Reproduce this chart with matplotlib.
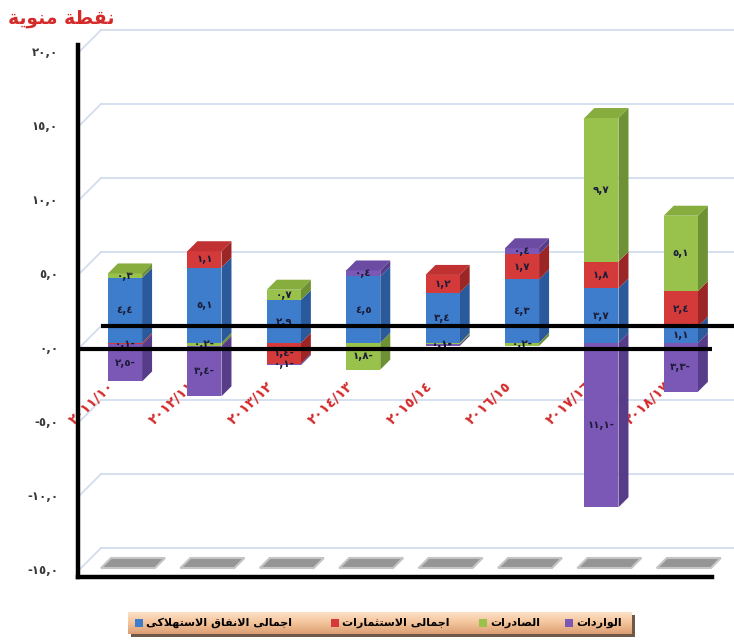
import matplotlib
matplotlib.use("Agg")
import matplotlib.pyplot as plt
from matplotlib.patches import Polygon, Rectangle
import numpy as np

# ---------------------------------------------------------------- data
categories = ["٢٠١١/١٠", "٢٠١٢/١١", "٢٠١٣/١٢", "٢٠١٤/١٣",
              "٢٠١٥/١٤", "٢٠١٦/١٥", "٢٠١٧/١٦", "٢٠١٨/١٧"]
consumption = [4.4, 5.1, 2.9, 4.5, 3.4, 4.3, 3.7, 1.1]
investment = [-0.1, 1.1, -1.4, 0.0, 1.2, 1.7, 1.8, 2.4]
exports = [0.3, -0.2, 0.7, -1.8, -0.1, -0.2, 9.7, 5.1]
imports = [-2.5, -3.4, -0.1, 0.4, -0.1, 0.4, -11.1, -3.3]
series_names = ["اجمالى الانفاق الاستهلاكى", "اجمالى الاستثمارات",
                "الصادرات", "الواردات"]
y_ticks = [20, 15, 10, 5, 0, -5, -10, -15]
title = "نقطة منوية"

# ---------------------------------------------------------------- arabic shaping
# (isolated, final, initial, medial) presentation forms
_FORMS = {
    'ا': ('\uFE8D', '\uFE8E', None, None),
    'ب': ('\uFE8F', '\uFE90', '\uFE91', '\uFE92'),
    'ة': ('\uFE93', '\uFE94', None, None),
    'ت': ('\uFE95', '\uFE96', '\uFE97', '\uFE98'),
    'ث': ('\uFE99', '\uFE9A', '\uFE9B', '\uFE9C'),
    'ج': ('\uFE9D', '\uFE9E', '\uFE9F', '\uFEA0'),
    'د': ('\uFEA9', '\uFEAA', None, None),
    'ر': ('\uFEAD', '\uFEAE', None, None),
    'س': ('\uFEB1', '\uFEB2', '\uFEB3', '\uFEB4'),
    'ص': ('\uFEB9', '\uFEBA', '\uFEBB', '\uFEBC'),
    'ط': ('\uFEC1', '\uFEC2', '\uFEC3', '\uFEC4'),
    'ف': ('\uFED1', '\uFED2', '\uFED3', '\uFED4'),
    'ق': ('\uFED5', '\uFED6', '\uFED7', '\uFED8'),
    'ك': ('\uFED9', '\uFEDA', '\uFEDB', '\uFEDC'),
    'ل': ('\uFEDD', '\uFEDE', '\uFEDF', '\uFEE0'),
    'م': ('\uFEE1', '\uFEE2', '\uFEE3', '\uFEE4'),
    'ن': ('\uFEE5', '\uFEE6', '\uFEE7', '\uFEE8'),
    'ه': ('\uFEE9', '\uFEEA', '\uFEEB', '\uFEEC'),
    'و': ('\uFEED', '\uFEEE', None, None),
    'ى': ('\uFEEF', '\uFEF0', None, None),
    'ي': ('\uFEF1', '\uFEF2', '\uFEF3', '\uFEF4'),
}


def _dual(c):
    return c in _FORMS and _FORMS[c][2] is not None


def shape(text):
    chars = list(text)
    out = []
    i, n = 0, len(chars)
    while i < n:
        c = chars[i]
        if c not in _FORMS:
            out.append(c)
            i += 1
            continue
        jp = i > 0 and _dual(chars[i - 1])
        if c == 'ل' and i + 1 < n and chars[i + 1] == 'ا':
            out.append('\uFEFC' if jp else '\uFEFB')
            i += 2
            continue
        jn = _dual(c) and i + 1 < n and chars[i + 1] in _FORMS
        iso, fin, ini, med = _FORMS[c]
        out.append(med if (jp and jn) else fin if jp else ini if jn else iso)
        i += 1
    return ''.join(reversed(out))


_DIG = str.maketrans("0123456789.", "٠١٢٣٤٥٦٧٨٩,")


def ar_num(v):
    s = f"{abs(v):.1f}".translate(_DIG)
    return s + "-" if v < 0 else s


def ar_tick(v):
    s = f"{abs(v):.1f}".translate(_DIG)
    return "-" + s if v < 0 else s


# ---------------------------------------------------------------- geometry
W, H = 734, 642
SX, SY = 79.4, 14.8          # px per category / per value unit
X0, Y0 = 125.0, 343.0        # px of category 0 and value 0 on the bar front plane
D_FRONT, D_BACK = -6, 17     # depth of front and back walls (px)
BAR_D = 10                   # bar depth (px)
BAR_W = 0.43


def dep(x, v, d):
    return x + d / SX, v + d / SY


def px2x(px, d=0):
    return (px - d - X0) / SX


def px2v(py, d=0):
    return (Y0 - d - py) / SY


XL = px2x(78, D_FRONT)
XR = px2x(712, D_FRONT)
VB = px2v(577, D_FRONT)
VT = px2v(45, D_FRONT)

fig = plt.figure(figsize=(W / 100, H / 100), dpi=100)
fig.patch.set_facecolor("white")
ax = fig.add_axes([0, 0, 1, 1])
ax.set_xlim(-X0 / SX, (W - X0) / SX)
ax.set_ylim((Y0 - H) / SY, Y0 / SY)
ax.axis("off")

FONT = ["DejaVu Sans"]
grid_c = "#d3ddee"

# back wall gridlines and side-wall diagonals
for v in y_ticks:
    bx, bv = dep(XL, v, D_BACK)
    fx, fv = dep(XL, v, D_FRONT)
    rx, _ = dep(XR + 1.0, v, D_BACK)
    ax.plot([bx, rx], [bv, bv], color=grid_c, lw=1.3, zorder=1)
    ax.plot([fx, bx], [fv, bv], color=grid_c, lw=1.3, zorder=1)
    ax.text(px2x(58), fv, ar_tick(v), ha="right", va="center",
            fontsize=8.5, fontweight="bold", color="#3a3a3a", family=FONT)

# floor shadows under the bars
for i in range(len(categories)):
    pts = [dep(i - 0.34, VB, 3), dep(i + 0.34, VB, 3),
           dep(i + 0.34, VB, 13), dep(i - 0.34, VB, 13)]
    ax.add_patch(Polygon(pts, closed=True, facecolor="#959595",
                         edgecolor="#c4c4c4", lw=1.5, zorder=2))

# category labels (behind the bars)
for i, lab in enumerate(categories):
    ax.text(i - 0.16, px2v(384), lab, rotation=43, rotation_mode="anchor",
            ha="right", va="center", fontsize=10, fontweight="bold",
            color="#d42a2a", family=FONT, zorder=3)

# ---------------------------------------------------------------- 3D stacked bars
series = [consumption, investment, exports, imports]
front_c = ["#3d7dcc", "#d43a3a", "#98c24c", "#7c58b6"]
side_c = ["#2a5a9c", "#9c2626", "#6d9133", "#573c8a"]
top_c = ["#3570b8", "#c03232", "#86ad3e", "#6c4ba2"]

dx_bar = BAR_D / SX
dy_bar = BAR_D / SY
for i in range(len(categories)):
    pos_base, neg_base = 0.0, 0.0
    segs = []
    for s, vals in enumerate(series):
        v = vals[i]
        if v == 0:
            continue
        if v > 0:
            segs.append((s, pos_base, v))
            pos_base += v
        else:
            segs.append((s, neg_base, v))
            neg_base += v
    for s, base, v in segs:
        ax.bar(i, v, bottom=base, width=BAR_W, color=front_c[s],
               edgecolor="none", zorder=5)
        xr = i + BAR_W / 2
        y0, y1 = base, base + v
        ax.add_patch(Polygon([(xr, y0), (xr, y1), (xr + dx_bar, y1 + dy_bar),
                              (xr + dx_bar, y0 + dy_bar)], closed=True,
                             facecolor=side_c[s], edgecolor="none", zorder=4))
        ax.text(i, base + v / 2, ar_num(v), ha="center", va="center",
                fontsize=7.5, fontweight="bold", color="#1c1c38",
                family=FONT, zorder=7)
    # top face of the highest positive segment
    tops = [(s, b, v) for s, b, v in segs if v > 0]
    if tops:
        s, b, v = max(tops, key=lambda t: t[1] + t[2])
        yt = b + v
        xl, xr = i - BAR_W / 2, i + BAR_W / 2
        ax.add_patch(Polygon([(xl, yt), (xr, yt), (xr + dx_bar, yt + dy_bar),
                              (xl + dx_bar, yt + dy_bar)], closed=True,
                             facecolor=top_c[s], edgecolor="none", zorder=6))

# zero lines (back wall and front) drawn over the bars
bx0, bv0 = dep(XL, 0, D_BACK)
ax.plot([bx0, dep(XR + 1.0, 0, D_BACK)[0]], [bv0, bv0], color="black",
        lw=3, zorder=8, solid_capstyle="butt")
fx0, fv0 = dep(XL, 0, D_FRONT)
ax.plot([fx0, dep(XR, 0, D_FRONT)[0]], [fv0, fv0], color="black",
        lw=3, zorder=8, solid_capstyle="butt")

# axis frame
axl_x, axl_b = dep(XL, VB, D_FRONT)
_, axl_t = dep(XL, VT, D_FRONT)
ax.plot([axl_x, axl_x], [axl_b, axl_t], color="black", lw=3.2, zorder=8)
ax.plot([axl_x, dep(XR, VB, D_FRONT)[0]], [axl_b, axl_b], color="black",
        lw=3.2, zorder=8)

# title
fig.text(8 / W, 1 - 18 / H, shape(title), ha="left", va="center",
         fontsize=13.5, fontweight="bold", color="#d42a2a", family=FONT)

# ---------------------------------------------------------------- legend box
lx0, lx1, ly0, ly1 = 128, 632, 612, 634
shadow_ax = fig.add_axes([(lx0 + 3) / W, 1 - (ly1 + 3) / H,
                          (lx1 - lx0) / W, (ly1 - ly0) / H])
shadow_ax.set_facecolor("#6e5848")
shadow_ax.set_xticks([])
shadow_ax.set_yticks([])
for sp in shadow_ax.spines.values():
    sp.set_visible(False)
shadow_ax.set_zorder(2)

lax = fig.add_axes([lx0 / W, 1 - ly1 / H, (lx1 - lx0) / W, (ly1 - ly0) / H])
lax.set_zorder(3)
t = np.linspace(0, 1, 40)
c_top = np.array([0.99, 0.88, 0.78])
c_mid = np.array([0.96, 0.78, 0.62])
c_bot = np.array([0.86, 0.62, 0.45])
grad = np.where(t[:, None] < 0.45,
                c_top + (c_mid - c_top) * (t[:, None] / 0.45),
                c_mid + (c_bot - c_mid) * ((t[:, None] - 0.45) / 0.55))
lax.imshow(grad[:, None, :], aspect="auto", extent=[0, 1, 0, 1])
lax.set_xlim(0, 1)
lax.set_ylim(0, 1)
lax.axis("off")

text_right = [292, 450, 540, 622]
fig.canvas.draw()
renderer = fig.canvas.get_renderer()
for name, col, r in zip(series_names, front_c, text_right):
    txt = fig.text(r / W, 1 - 623 / H, shape(name), ha="right", va="center",
                   fontsize=8, fontweight="bold", color="black", family=FONT,
                   zorder=10)
    bb = txt.get_window_extent(renderer)
    mx = bb.x0 - 11
    fig.patches.append(Rectangle((mx / W, 1 - 627 / H), 8 / W, 8 / H,
                                 transform=fig.transFigure, facecolor=col,
                                 edgecolor="none", zorder=10))

fig.savefig("out.png", dpi=100, facecolor="white")
